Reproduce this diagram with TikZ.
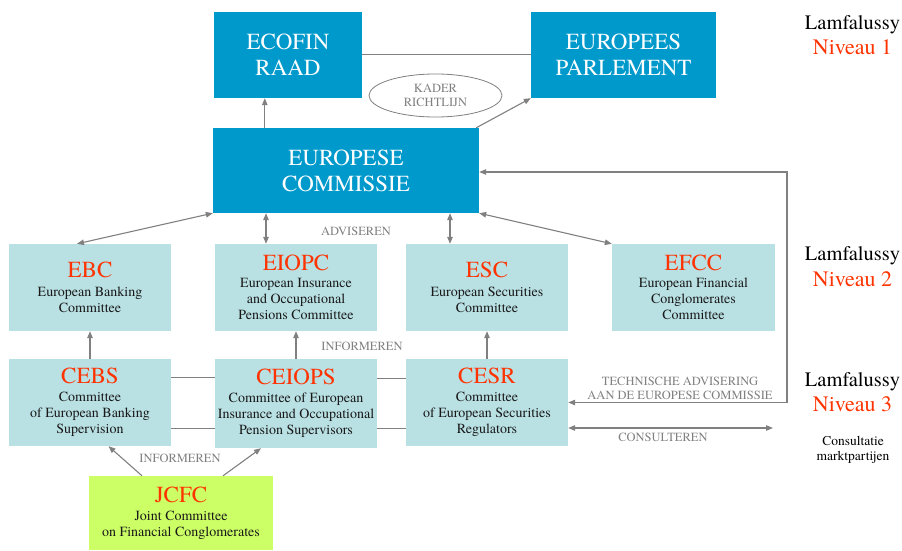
\documentclass[tikz,border=0pt]{standalone}
\usepackage{fontspec}
\setmainfont{texgyretermes}[Extension=.otf,UprightFont=*-regular,BoldFont=*-bold,ItalicFont=*-italic,BoldItalicFont=*-bolditalic]
\usetikzlibrary{arrows.meta,shapes.geometric,calc}
\definecolor{eublue}{HTML}{0099CC}
\definecolor{tealbg}{HTML}{B9E0E3}
\definecolor{limebg}{HTML}{CCFF66}
\definecolor{redt}{HTML}{FF3300}
\definecolor{grayc}{HTML}{808080}
\newcommand{\ttlfont}{\fontsize{23}{25}\selectfont\color{redt}}
\begin{document}
\begin{tikzpicture}[x=1pt,y=-1pt,
  bluebox/.style={fill=eublue, text=white, align=center, inner sep=0pt,
    font=\fontsize{23}{26}\selectfont},
  tealbox/.style={fill=tealbg, align=center, inner sep=0pt, text=black!90,
    minimum width=162pt, minimum height=87pt, font=\fontsize{14}{16.2}\selectfont},
  limebox/.style={tealbox, fill=limebg},
  tip/.tip={Triangle[length=7pt,width=5.5pt]},
  conn/.style={draw=grayc, line width=1.1pt, -tip},
  dconn/.style={draw=grayc, line width=1.1pt, tip-tip},
  plainln/.style={draw=grayc, line width=1pt},
  lbl/.style={text=grayc, align=center, inner sep=0pt, font=\fontsize{12.5}{14}\selectfont},
  lam/.style={inner sep=0pt, font=\fontsize{20.5}{24}\selectfont},
  niv/.style={inner sep=0pt, text=redt, font=\fontsize{22}{24}\selectfont}
]
\useasboundingbox (0,0) rectangle (902,551);

% top boxes
\node[bluebox, minimum width=148pt, minimum height=86pt] (ecofin) at (288,55) {ECOFIN\\RAAD};
\node[bluebox, minimum width=185pt, minimum height=86pt] (parl) at (623.5,55) {EUROPEES\\PARLEMENT};
\node[bluebox, minimum width=266pt, minimum height=85pt] (comm) at (346,170.5) {EUROPESE\\COMMISSIE};
\node[draw=grayc, line width=0.8pt, ellipse, minimum width=133pt, minimum height=43pt, inner sep=0pt,
  text=grayc, align=center, font=\fontsize{12.5}{13.5}\selectfont] (kader) at (435.5,95.5) {KADER\\RICHTLIJN};

% level 2
\node[tealbox] (ebc) at (90,287.5) {{\ttlfont EBC}\\[2pt]European Banking\\Committee};
\node[tealbox] (eiopc) at (296,287.5) {{\ttlfont EIOPC}\\[1pt]European Insurance\\and Occupational\\Pensions Committee};
\node[tealbox] (esc) at (487,287.5) {{\ttlfont ESC}\\[2pt]European Securities\\Committee};
\node[tealbox, minimum width=163pt] (efcc) at (693.5,287.5) {{\ttlfont EFCC}\\[1pt]European Financial\\Conglomerates\\Committee};

% level 3
\node[tealbox] (cebs) at (90,402.5) {{\ttlfont CEBS}\\[1pt]Committee\\of European Banking\\Supervision};
\node[tealbox, minimum height=89pt] (ceiops) at (296,403.5) {{\ttlfont CEIOPS}\\[1pt]Committee of European\\Insurance and Occupational\\Pension Supervisors};
\node[tealbox] (cesr) at (487,402.5) {{\ttlfont CESR}\\[1pt]Committee\\of European Securities\\Regulators};
\node[limebox, minimum width=184pt, minimum height=74pt] (jcfc) at (181,513) {{\ttlfont JCFC}\\[2pt]Joint Committee\\on Financial Conglomerates};

% connectors top
\draw[plainln] (ecofin.east) -- (parl.west);
\draw[conn] ([xshift=52pt]comm.north west) -- ([xshift=52pt]comm.north west |- ecofin.south);
\draw[conn] ([xshift=-3pt]comm.north east) -- (parl.south west);

% level 2 <-> commissie
\draw[dconn] ([xshift=-13pt]ebc.north) -- (comm.south west);
\draw[dconn] ([xshift=-30pt]eiopc.north) -- ([xshift=-30pt]eiopc.north |- comm.south);
\draw[dconn] ([xshift=-37pt]esc.north) -- ([xshift=-37pt]esc.north |- comm.south);
\draw[dconn] (efcc.north west) -- (comm.south east);

% level 3 -> level 2
\draw[conn] (cebs.north) -- (ebc.south);
\draw[conn] (ceiops.north) -- (eiopc.south);
\draw[conn] (cesr.north) -- (esc.south);

% level 3 horizontal lines
\draw[plainln] ([yshift=25.5pt]cebs.east) -- ([yshift=25.5pt]cebs.east -| ceiops.west);
\draw[plainln] ([yshift=-25.5pt]cebs.east) -- ([yshift=-25.5pt]cebs.east -| ceiops.west);
\draw[plainln] ([yshift=24.5pt]cesr.west) -- ([yshift=24.5pt]cesr.west -| ceiops.east);
\draw[plainln] ([yshift=-25.5pt]cesr.west) -- ([yshift=-25.5pt]cesr.west -| ceiops.east);

% JCFC
\draw[conn] ([xshift=-39pt]jcfc.north) -- ([xshift=18.5pt]cebs.south);
\draw[conn] ([xshift=42pt]jcfc.north) -- ([xshift=-35pt]ceiops.south);

% right side
\coordinate (tk) at (787,172);
\draw[dconn] ([yshift=-1.5pt]comm.east) -- (tk) |- (cesr.east);
\coordinate (cm) at (773,428);
\draw[dconn] ([yshift=-25.5pt]cesr.east) -- (cm);

% labels
\node[lbl, anchor=base] (adv) at (356,235) {ADVISEREN};
\node[lbl, anchor=base] (inf1) at (362,350) {INFORMEREN};
\node[lbl, anchor=base] (inf2) at (180,462) {INFORMEREN};
\node[lbl] (tech) at (680,388) {TECHNISCHE ADVISERING\\AAN DE EUROPESE COMMISSIE};
\node[lbl, anchor=base] (cons) at (663,441) {CONSULTEREN};

% Lamfalussy levels
\node[lam, anchor=base] (lam1) at (852.5,30) {Lamfalussy};
\node[niv, anchor=base] (niv1) at (852.5,55) {Niveau 1};
\node[lam, anchor=base] (lam2) at (852.5,260) {Lamfalussy};
\node[niv, anchor=base] (niv2) at (852.5,286) {Niveau 2};
\node[lam, anchor=base] (lam3) at (852.5,386) {Lamfalussy};
\node[niv, anchor=base] (niv3) at (852.5,411) {Niveau 3};
\node[inner sep=0pt, align=center, font=\fontsize{13.5}{15}\selectfont] (cmp) at (853,449.5) {Consultatie\\marktpartijen};
\end{tikzpicture}
\end{document}
